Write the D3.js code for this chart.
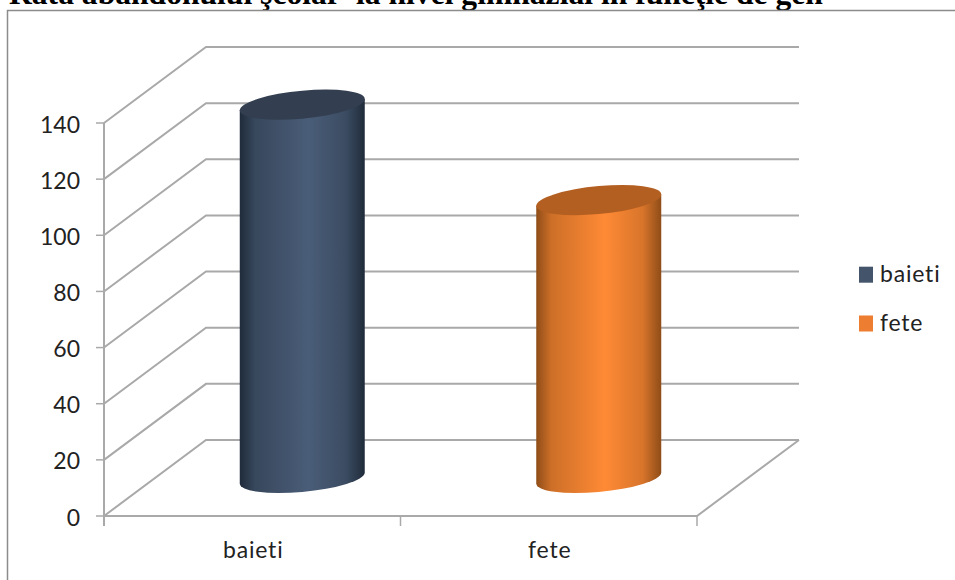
<!DOCTYPE html>
<html>
<head>
<meta charset="utf-8">
<script src="https://cdn.jsdelivr.net/npm/d3@7"></script>
<style>html,body{margin:0;padding:0;background:#fff;overflow:hidden}svg{display:block}</style>
</head>
<body>
<svg id="c" width="955" height="580"></svg>
<script>
const titleText = "Rata abandonului şcolar  la nivel gimnazial în funcţie de gen";
const categories = ["baieti", "fete"];
const values = [133, 99];
const yTicks = [0, 20, 40, 60, 80, 100, 120, 140];
const barBase = ["#1f2b3a", "#8f4d18"];
const barLight = ["#4a5d78", "#ff8a35"];
const barTop = ["#333f50", "#b45f22"];
const legendColors = ["#44546a", "#ed7d31"];

const svg = d3.select("#c");
const defs = svg.append("defs");

const yS = d3.scaleLinear().domain([0, 140]).range([516, 123]);
const xS = d3.scaleBand().domain(categories).range([104, 697]);
const depth = {dx: 102, dy: -76};
const grid = "#a9a9a9";

// title
svg.append("text").text(titleText).attr("x", 9).attr("y", 4)
  .attr("font-family", "Liberation Serif").attr("font-weight", "bold").attr("font-size", 31.6).attr("fill", "#000")
  .style("white-space", "pre");

// frame
svg.append("path").attr("d", "M7.5,580V10.5H955").attr("fill", "none").attr("stroke", "#8c8c8c").attr("stroke-width", 1.5);

// gridlines
const x0 = xS.range()[0], x1 = xS.range()[1];
svg.append("g").selectAll("path").data(yTicks).join("path")
  .attr("d", d => `M${x0},${yS(d)}L${x0 + depth.dx},${yS(d) + depth.dy}H${x1 + depth.dx}`)
  .attr("fill", "none").attr("stroke", grid).attr("stroke-width", 2);
// floor
svg.append("path").attr("d", `M${x1 + depth.dx},${yS(0) + depth.dy}L${x1},${yS(0)}H${x0}`)
  .attr("fill", "none").attr("stroke", grid).attr("stroke-width", 2);
// y axis + ticks
svg.append("path").attr("d", `M${x0},${yS(140)}V${yS(0) + 10}`).attr("fill", "none").attr("stroke", grid).attr("stroke-width", 2);
svg.append("g").selectAll("line").data(yTicks).join("line")
  .attr("x1", x0 - 8).attr("x2", x0).attr("y1", d => yS(d)).attr("y2", d => yS(d))
  .attr("stroke", grid).attr("stroke-width", 1.5);
// x ticks
svg.append("g").selectAll("line").data([x0 + xS.bandwidth(), x1]).join("line")
  .attr("x1", d => d).attr("x2", d => d).attr("y1", yS(0)).attr("y2", yS(0) + 10)
  .attr("stroke", grid).attr("stroke-width", 1.5);

// y labels
svg.append("g").selectAll("text").data(yTicks).join("text").text(d => d)
  .attr("x", 80).attr("y", d => yS(d) + 9.5).attr("text-anchor", "end")
  .attr("font-family", "Lato").attr("font-size", 23).attr("fill", "#222");
// x labels
svg.append("g").selectAll("text").data(categories).join("text").text(d => d)
  .attr("x", d => xS(d) + xS.bandwidth() / 2 + 1).attr("y", 558).attr("text-anchor", "middle")
  .attr("font-family", "Lato").attr("font-size", 23).attr("letter-spacing", 0.8).attr("fill", "#222");

// cylinders
const a = 62.5, b = 14, shearDeg = -5.14;
const bottomCY = 478;
const pxPerUnit = yS(0) - yS(1);
categories.forEach((c, i) => {
  const g = defs.append("linearGradient").attr("id", "bar" + i);
  g.append("stop").attr("offset", "0").attr("stop-color", barBase[i]);
  g.append("stop").attr("offset", "0.12").attr("stop-color", d3.interpolateRgb(barBase[i], barLight[i])(0.55));
  g.append("stop").attr("offset", "0.55").attr("stop-color", barLight[i]);
  g.append("stop").attr("offset", "0.85").attr("stop-color", d3.interpolateRgb(barBase[i], barLight[i])(0.65));
  g.append("stop").attr("offset", "1").attr("stop-color", barBase[i]);
  const cx = xS(c) + xS.bandwidth() / 2 + depth.dx / 2 - 1;
  const h = values[i] * pxPerUnit;
  const grp = svg.append("g").attr("transform", `translate(${cx},${bottomCY}) skewY(${shearDeg})`);
  grp.append("path")
    .attr("d", `M${-a},0A${a},${b} 0 0 0 ${a},0V${-h}H${-a}Z`)
    .attr("fill", `url(#bar${i})`);
  grp.append("ellipse").attr("cx", 0).attr("cy", -h).attr("rx", a).attr("ry", b).attr("fill", barTop[i]);
});

// legend
const ly = [274.7, 323.5];
svg.append("g").selectAll("rect").data(categories).join("rect")
  .attr("x", 859).attr("y", (d, i) => ly[i] - 8).attr("width", 14).attr("height", 16)
  .attr("fill", (d, i) => legendColors[i]);
svg.append("g").selectAll("text").data(categories).join("text").text(d => d)
  .attr("x", 880).attr("y", (d, i) => ly[i] + 7)
  .attr("font-family", "Lato").attr("font-size", 23).attr("letter-spacing", 0.8).attr("fill", "#222");
</script>
</body>
</html>
